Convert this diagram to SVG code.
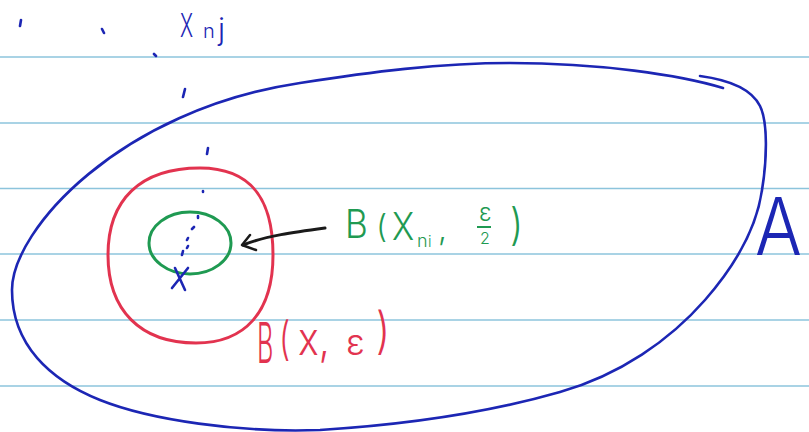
<svg xmlns="http://www.w3.org/2000/svg" width="809" height="432" viewBox="0 0 809 432">
<style>
.rule{stroke:#8cc4dc;stroke-width:1.6}
.blue{fill:none;stroke:#1c26b4;stroke-width:2.6;stroke-linecap:round;stroke-linejoin:round}
.dot{fill:none;stroke:#1c26b4;stroke-width:2.6;stroke-linecap:round}
.red{fill:none;stroke:#e2334f;stroke-width:3}
.green{fill:none;stroke:#1f9a52;stroke-width:3}
.t{font-family:Inter,"Liberation Sans",Arial,sans-serif;font-weight:300}
.tb{fill:#1c26b4}
.tr{fill:#e2334f}
.tg{fill:#1f9a52}
</style>
<rect width="809" height="432" fill="#ffffff"/>
<g id="paper">
<line class="rule" x1="0" y1="57" x2="809" y2="57"/>
<line class="rule" x1="0" y1="123" x2="809" y2="123"/>
<line class="rule" x1="0" y1="188.5" x2="809" y2="188.5"/>
<line class="rule" x1="0" y1="254" x2="809" y2="254"/>
<line class="rule" x1="0" y1="320" x2="809" y2="320"/>
<line class="rule" x1="0" y1="386" x2="809" y2="386"/>
</g>
<g id="setA">
<path class="blue" d="M 700,76 C 730,80 752,90 760,106 C 768,122 767,160 762,190 C 757,225 740,260 705,300 C 670,340 620,375 560,392 C 480,415 400,425 320,430 C 240,433 150,420 100,400 C 50,380 12,345 12,290 C 12,230 120,110 300,83 C 370,72 440,63 510,63 C 600,63 680,75 723,88"/>
<text class="t tb" x="755" y="255" font-size="80" transform="translate(755,255) scale(0.87,1) translate(-755,-255)">A</text>
</g>
<g id="sequence">
<path class="dot" d="M21,20 L20,26 M102,29 L104,33 M154,54 L156,56 M185,89 L183,97 M208,148 L207,154 M203,191 L203,192 M198,216 L198,218 M194,227 L192,229 M188,238 L187,240 M188,246 L187,248 M183,251 L182,255"/>
<text class="t tb" x="180" y="37" font-size="33" transform="translate(180,37) scale(0.6,1) translate(-180,-37)">X</text>
<text class="t tb" x="203" y="38" font-size="20">n</text>
<text class="t tb" x="218" y="40" font-size="30">j</text>
</g>
<g id="ballX">
<path class="red" d="M 200,168 C 252,168 273,200 273,255 C 273,312 245,343 196,343 C 140,343 108,310 108,255 C 108,200 140,168 200,168 Z"/>
<text class="t tr" x="257" y="363" font-size="56" transform="translate(257,363) scale(0.45,1) translate(-257,-363)">B</text>
<text class="t tr" x="279" y="355" font-size="46" transform="translate(279,355) scale(0.7,1) translate(-279,-355)">(</text>
<text class="t tr" x="298" y="355" font-size="46" transform="translate(298,355) scale(0.85,1) translate(-298,-355)">x,</text>
<text class="t tr" x="346" y="355" font-size="36">ε</text>
<text class="t tr" x="376" y="348" font-size="50" transform="translate(376,348) scale(0.8,1) translate(-376,-348)">)</text>
</g>
<g id="ballXn">
<ellipse class="green" cx="190" cy="243" rx="41" ry="31"/>
<text class="t tg" x="345" y="238" font-size="39" transform="translate(345,238) scale(0.9,1) translate(-345,-238)">B</text>
<text class="t tg" x="376" y="238" font-size="32">(</text>
<text class="t tg" x="392" y="240" font-size="38" transform="translate(392,240) scale(0.88,1) translate(-392,-240)">X</text>
<text class="t tg" x="417" y="247" font-size="18">n</text>
<text class="t tg" x="428" y="247" font-size="15">i</text>
<text class="t tg" x="438" y="240" font-size="32">,</text>
<text class="t tg" x="479" y="221" font-size="24">ε</text>
<line x1="477" y1="227" x2="491" y2="227" stroke="#1f9a52" stroke-width="2"/>
<text class="t tg" x="480" y="244" font-size="16">2</text>
<text class="t tg" x="510" y="240" font-size="44" transform="translate(510,240) scale(0.85,1) translate(-510,-240)">)</text>
</g>
<g id="pointX">
<path class="blue" d="M172,288 L188,268 M175,268 L185,290"/>
</g>
<g id="connectors">
<path d="M 325,228 C 295,232 265,236 243,245" fill="none" stroke="#1a1a1a" stroke-width="3" stroke-linecap="round"/>
<path d="M 250,235 L 242,245 L 256,250" fill="none" stroke="#1a1a1a" stroke-width="2.5" stroke-linecap="round" stroke-linejoin="round"/>
</g>
</svg>
